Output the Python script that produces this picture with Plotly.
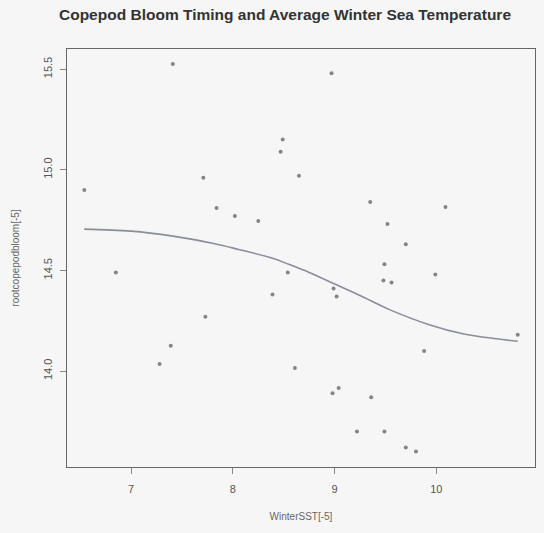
import plotly.graph_objects as go

# Observed data points (WinterSST[-5], rootcopepodbloom[-5])
sst = [6.54, 7.41, 8.49, 8.47, 8.65, 7.71, 7.84, 8.02, 8.25,
       8.97, 9.35, 10.09, 9.52, 9.70,
       6.85, 8.54, 8.39, 7.73, 7.39, 7.28, 8.61,
       9.49, 9.99, 9.48, 9.56, 8.99, 9.02, 10.80, 9.88,
       9.04, 8.98, 9.36, 9.22, 9.49, 9.70, 9.80]
bloom = [14.90, 15.525, 15.15, 15.09, 14.97, 14.96, 14.81, 14.77, 14.745,
         15.48, 14.84, 14.815, 14.73, 14.63,
         14.49, 14.49, 14.38, 14.27, 14.125, 14.035, 14.015,
         14.53, 14.48, 14.45, 14.44, 14.41, 14.37, 14.18, 14.10,
         13.915, 13.89, 13.87, 13.70, 13.70, 13.62, 13.60]

# Fitted smooth curve
fit_x = [6.54, 7.0, 7.41, 7.80, 8.05, 8.39, 8.55, 8.75, 8.99, 9.25,
         9.54, 9.93, 10.26, 10.59, 10.80]
fit_y = [14.705, 14.695, 14.67, 14.635, 14.605, 14.56, 14.53, 14.49, 14.435, 14.375,
         14.305, 14.23, 14.185, 14.16, 14.148]

x_ticks = [7, 8, 9, 10]
y_ticks = [14.0, 14.5, 15.0, 15.5]

bg = "#f6f6f6"
fig = go.Figure()
fig.add_trace(go.Scatter(x=sst, y=bloom, mode="markers",
                         marker=dict(size=4, color="#858585"),
                         showlegend=False))
fig.add_trace(go.Scatter(x=fit_x, y=fit_y, mode="lines",
                         line=dict(color="#8a8d9a", width=1.6, shape="spline", smoothing=1.0),
                         showlegend=False))

axis_common = dict(showgrid=False, zeroline=False, showline=True, mirror=True,
                   linecolor="#666666", linewidth=1, ticks="outside", ticklen=6,
                   tickcolor="#888888",
                   tickfont=dict(family="Liberation Sans, Arial", size=11, color="#555555"))

fig.update_xaxes(range=[6.37, 10.97], tickvals=x_ticks, ticktext=[str(v) for v in x_ticks],
                 ticklabelstandoff=6,
                 title=dict(text="WinterSST[-5]", standoff=18,
                            font=dict(family="Liberation Sans, Arial", size=10, color="#666666")),
                 **axis_common)
fig.update_yaxes(range=[13.523, 15.60], tickvals=y_ticks, ticktext=["14.0", "14.5", "15.0", "15.5"],
                 tickangle=-90, ticklabelstandoff=4,
                 title=dict(text="rootcopepodbloom[-5]", standoff=20,
                            font=dict(family="Liberation Sans, Arial", size=10, color="#666666")),
                 **axis_common)

fig.update_layout(
    width=544, height=533,
    margin=dict(l=67, r=9, t=49, b=66),
    paper_bgcolor=bg, plot_bgcolor=bg,
    title=dict(text="<b>Copepod Bloom Timing and Average Winter Sea Temperature</b>",
               x=285 / 544, xref="container", xanchor="center",
               y=1 - 15 / 533, yref="container", yanchor="middle",
               font=dict(family="Liberation Sans, Arial", size=15.5, color="#333333")),
)

fig.write_html("out.html")
